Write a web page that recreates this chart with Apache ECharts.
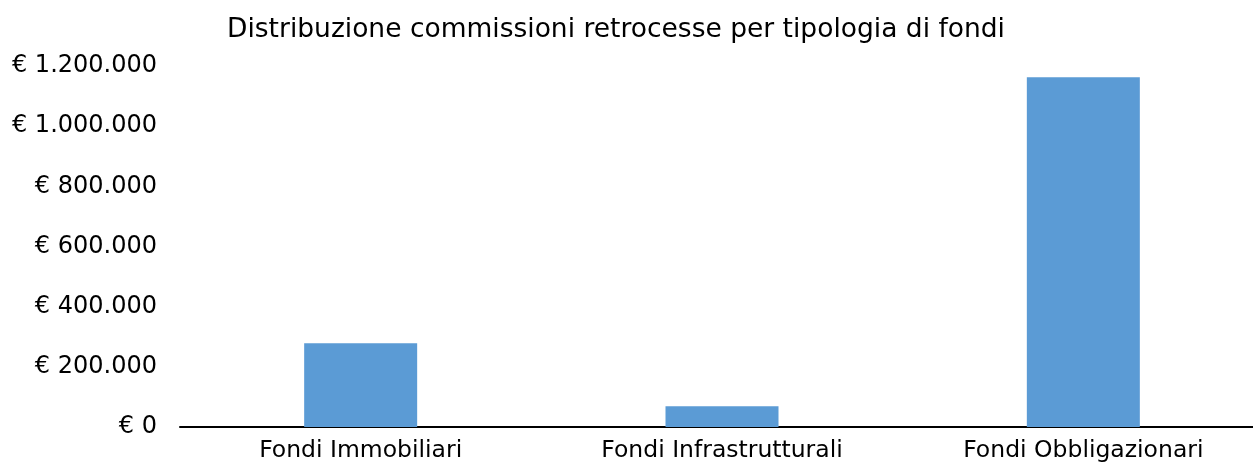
<!DOCTYPE html>
<html>
<head>
<meta charset="utf-8">
<script src="https://cdn.jsdelivr.net/npm/echarts@6/dist/echarts.min.js"></script>
<style>
  html, body { margin: 0; padding: 0; background: #fff; }
  #chart { width: 1253px; height: 470px; }
</style>
</head>
<body>
<div id="chart"></div>
<script>
var titolo = 'Distribuzione commissioni retrocesse per tipologia di fondi';
var categorie = ['Fondi Immobiliari', 'Fondi Infrastrutturali', 'Fondi Obbligazionari'];
var commissioni = [278000, 69000, 1163000];

// formato euro con separatore delle migliaia "."
function euro(v) {
  return '€ ' + String(v).replace(/\B(?=(\d{3})+(?!\d))/g, '.');
}

var chart = echarts.init(document.getElementById('chart'));

var option = {
  backgroundColor: '#ffffff',
  color: ['#5B9BD5'],
  title: {
    text: titolo,
    left: 611,
    top: 12,
    textAlign: 'center',
    textStyle: {
      fontFamily: 'DejaVu Sans',
      fontWeight: 'normal',
      fontSize: 26.5,
      color: '#000'
    }
  },
  grid: {
    left: 180,
    right: -11,
    top: 66,
    bottom: 43,
    outerBoundsMode: 'none'
  },
  xAxis: {
    type: 'category',
    data: categorie,
    axisTick: { show: false },
    axisLine: { lineStyle: { color: '#000', width: 2 } },
    axisLabel: {
      color: '#000',
      fontFamily: 'DejaVu Sans',
      fontSize: 23.5,
      margin: 12
    }
  },
  yAxis: {
    type: 'value',
    min: 0,
    max: 1200000,
    interval: 200000,
    splitLine: { show: false },
    axisLine: { show: false },
    axisTick: { show: false },
    axisLabel: {
      color: '#000',
      fontFamily: 'DejaVu Sans',
      fontSize: 24,
      margin: 23,
      formatter: euro
    }
  },
  series: [{
    type: 'bar',
    data: commissioni,
    barWidth: 113
  }]
};

chart.setOption(option);
</script>
</body>
</html>
